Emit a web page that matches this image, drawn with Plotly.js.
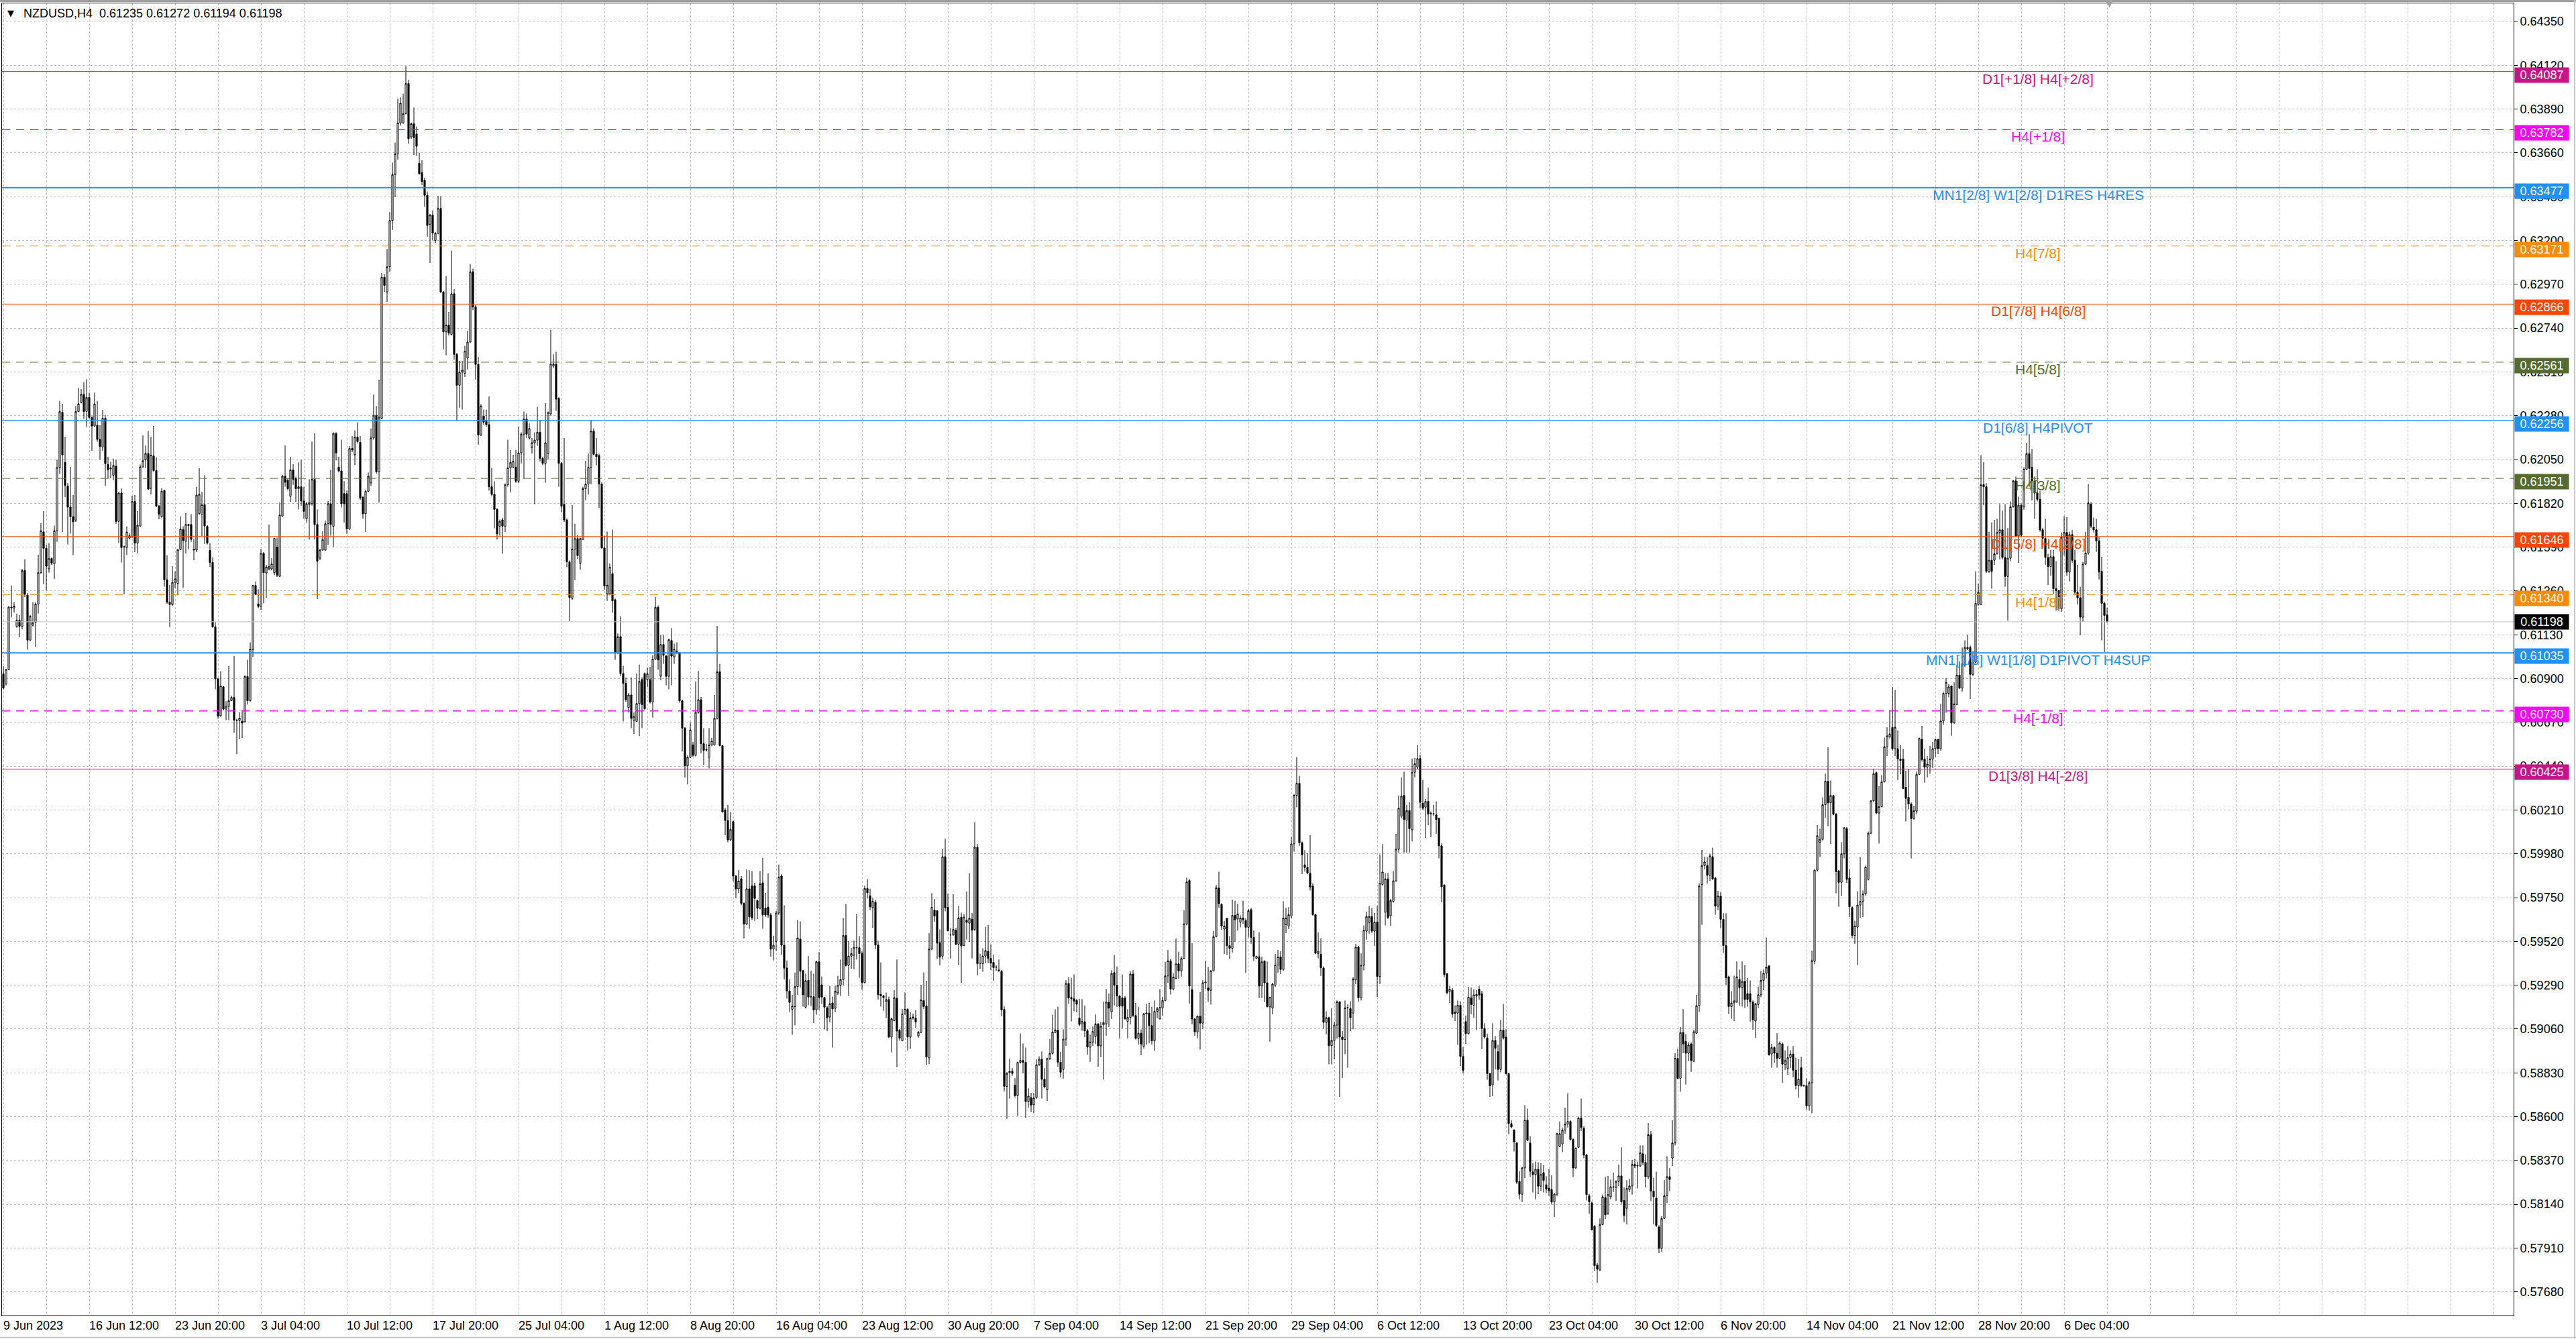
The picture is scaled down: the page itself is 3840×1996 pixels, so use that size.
<!DOCTYPE html>
<html>
<head>
<meta charset="utf-8">
<script src="https://cdn.plot.ly/plotly-3.0.1.min.js"></script>
<style>
  html, body { margin: 0; padding: 0; background: #fff; overflow: hidden; }
  #chart { width: 3840px; height: 1996px; }
</style>
</head>
<body>
<div id="chart"></div>
<script>
// NZDUSD H4 candles, prices in pips (price * 10000), one bar per 4 hours from 9 Jun 2023
const openPips = [
6092.5,6087.1,6094.8,6127.5,6127.1,6117.4,6120.7,6117.4,6146.7,6133.8,
6110.2,6118.0,6119.4,6129.1,6145.6,6167.0,6158.4,6147.6,6153.0,6150.3,
6167.6,6200.8,6229.8,6203.5,6191.1,6180.0,6175.0,6173.2,6230.2,6235.1,
6239.2,6230.2,6237.6,6227.1,6222.6,6223.0,6215.6,6211.6,6226.7,6202.4,
6200.5,6196.8,6201.5,6172.5,6187.4,6159.0,6158.8,6163.8,6164.5,6183.0,
6161.1,6170.1,6201.1,6204.9,6208.2,6189.8,6206.9,6199.2,6180.6,6175.0,
6188.7,6141.9,6130.1,6128.8,6140.5,6140.0,6157.7,6168.2,6162.1,6170.9,
6170.9,6158.0,6157.5,6176.6,6176.3,6181.3,6169.9,6157.3,6151.0,6117.1,
6089.8,6070.5,6085.7,6074.0,6075.4,6078.4,6080.1,6068.2,6068.0,6067.6,
6067.3,6091.1,6078.4,6105.2,6138.9,6129.2,6127.9,6155.7,6145.4,6147.6,
6147.6,6145.6,6159.1,6143.7,6175.3,6196.2,6194.2,6185.7,6199.6,6195.0,
6189.7,6190.7,6183.2,6173.9,6181.2,6181.8,6194.6,6170.9,6153.2,6157.5,
6157.5,6171.3,6181.8,6169.9,6218.7,6201.0,6199.0,6187.1,6187.1,6168.6,
6210.8,6207.5,6216.7,6214.0,6185.1,6176.5,6188.3,6192.7,6216.3,6228.2,
6198.6,6226.6,6300.7,6293.0,6306.2,6330.5,6354.6,6365.5,6381.7,6381.7,
6386.6,6402.4,6374.4,6381.3,6375.9,6360.5,6355.6,6351.6,6343.7,6328.5,
6333.3,6320.0,6323.8,6336.8,6293.0,6272.0,6275.6,6270.7,6292.0,6260.2,
6244.0,6250.9,6250.3,6258.2,6266.7,6303.6,6285.1,6254.9,6217.9,6227.8,
6225.2,6223.3,6190.7,6186.7,6178.8,6170.0,6173.3,6170.0,6191.7,6200.6,
6201.0,6201.0,6193.6,6208.5,6218.3,6226.2,6216.3,6211.2,6213.8,6215.2,
6219.3,6205.6,6203.0,6208.1,6229.0,6254.1,6255.1,6237.1,6203.0,6181.5,
6173.3,6151.3,6132.1,6158.0,6163.5,6150.5,6163.1,6189.7,6192.1,6200.9,
6219.9,6207.7,6207.1,6192.1,6158.6,6134.5,6134.5,6145.1,6131.4,6103.4,
6112.0,6092.6,6087.5,6074.8,6081.4,6068.1,6067.5,6076.9,6089.5,6092.6,
6089.5,6089.5,6077.7,6100.2,6127.4,6091.2,6107.9,6101.8,6091.2,6110.0,
6101.4,6104.3,6103.4,6078.3,6064.0,6044.2,6048.7,6055.2,6049.7,6072.2,
6078.9,6055.8,6052.7,6048.7,6055.2,6055.2,6069.1,6093.6,6054.8,6021.1,
6015.5,6005.3,6014.9,5986.3,5979.6,5984.9,5972.0,5961.2,5979.6,5981.2,
5981.2,5973.4,5969.4,5982.8,5969.4,5970.0,5965.9,5948.0,5952.0,5966.9,
5986.3,5950.0,5938.0,5926.0,5916.4,5917.8,5928.3,5953.3,5936.6,5917.5,
5931.6,5922.8,5923.0,5916.0,5941.3,5929.2,5922.5,5917.2,5912.3,5919.7,
5916.9,5925.0,5928.9,5932.0,5955.1,5939.4,5944.3,5944.7,5948.9,5948.7,
5945.8,5930.4,5979.8,5976.0,5969.8,5972.7,5950.1,5924.2,5923.4,5920.3,
5921.5,5901.8,5910.4,5922.1,5905.5,5899.9,5913.9,5916.4,5901.8,5912.3,
5911.7,5902.4,5904.3,5920.9,5918.1,5890.9,5948.0,5968.4,5968.1,5951.4,
5944.3,5996.5,5969.9,5955.4,5955.4,5957.9,5950.5,5964.7,5949.9,5963.1,
5961.6,5963.7,5958.3,6001.4,5940.6,5940.3,5944.3,5946.8,5943.1,5941.0,
5938.4,5937.0,5936.3,5916.4,5875.9,5883.1,5883.9,5876.5,5871.0,5888.5,
5889.5,5888.5,5867.9,5870.0,5866.3,5870.0,5887.3,5890.1,5879.6,5874.1,
5890.5,5893.2,5904.3,5905.4,5888.6,5884.8,5900.7,5929.9,5922.6,5921.9,
5921.0,5911.7,5908.7,5909.8,5905.1,5896.5,5899.2,5902.1,5908.7,5897.2,
5908.2,5908.7,5920.1,5915.0,5935.6,5929.0,5923.3,5922.3,5922.3,5910.0,
5912.1,5934.9,5913.1,5901.1,5903.8,5896.8,5914.0,5914.4,5907.8,5899.8,
5915.3,5911.3,5917.0,5921.0,5933.9,5941.8,5927.0,5932.5,5940.2,5936.5,
5943.1,5961.2,5984.0,5926.7,5911.3,5904.5,5912.7,5909.1,5930.3,5927.6,
5926.3,5936.5,5954.5,5980.0,5971.4,5958.5,5964.1,5949.8,5948.4,5965.7,
5963.8,5962.1,5964.3,5963.0,5959.4,5968.7,5954.1,5943.1,5943.9,5928.6,
5941.8,5930.3,5917.7,5917.0,5929.0,5939.6,5943.9,5937.3,5960.8,5960.1,
5965.4,6003.2,6028.7,6035.0,6003.8,5992.2,5990.8,5987.7,5981.0,5966.1,
5945.5,5945.3,5938.0,5909.5,5912.0,5897.3,5900.0,5908.1,5920.3,5901.8,
5900.5,5917.1,5916.7,5914.4,5931.8,5949.0,5922.4,5939.5,5957.4,5961.9,
5965.1,5957.4,5962.2,5933.6,5981.9,5967.3,5984.8,5965.5,5973.0,5983.8,
6000.4,6017.8,6028.6,6015.7,6020.7,6010.6,6040.8,6043.5,6048.0,6024.6,
6022.5,6025.5,6019.3,6019.1,6018.4,6016.6,6002.2,5981.6,5935.0,5925.7,
5926.4,5914.9,5914.4,5918.5,5891.6,5909.9,5903.6,5922.4,5918.5,5923.3,
5926.9,5924.6,5906.3,5901.3,5882.6,5876.7,5900.0,5894.1,5884.8,5905.4,
5901.8,5882.6,5856.4,5852.9,5846.2,5826.0,5819.3,5833.1,5858.2,5846.2,
5831.0,5829.6,5832.4,5823.5,5830.6,5824.2,5822.4,5821.7,5815.2,5819.3,
5844.4,5845.7,5852.9,5856.1,5857.5,5848.0,5833.1,5843.9,5859.3,5853.9,
5839.8,5818.5,5814.7,5802.5,5782.1,5779.5,5803.4,5817.5,5809.1,5817.9,
5823.2,5822.8,5826.0,5828.9,5816.0,5811.9,5821.7,5823.6,5834.9,5834.1,
5834.1,5840.5,5836.0,5828.5,5850.5,5820.9,5817.2,5802.1,5790.8,5806.6,
5818.5,5828.5,5838.3,5846.2,5890.6,5880.1,5904.2,5899.5,5893.3,5898.2,
5889.1,5903.8,5918.3,5981.8,5991.8,5991.8,5986.7,5996.5,5985.2,5970.5,
5975.8,5963.6,5949.8,5933.4,5917.8,5919.7,5920.2,5932.1,5927.8,5931.0,
5924.6,5924.6,5920.2,5910.2,5918.9,5924.0,5931.5,5935.3,5939.1,5892.9,
5896.3,5893.3,5890.6,5898.2,5887.3,5885.4,5891.0,5892.9,5884.4,5876.3,
5885.7,5876.3,5876.3,5865.6,5877.8,5941.5,5989.4,6004.1,6005.6,6023.8,
6036.1,6024.8,6028.6,6018.8,5989.0,5983.0,5998.0,6011.2,5985.2,5969.8,
5955.1,5959.5,5971.1,5973.0,5976.9,5984.6,6008.8,6025.8,6040.6,6019.4,
6022.7,6035.8,6054.2,6059.4,6064.4,6053.2,6053.2,6047.0,6047.8,6032.9,
6027.7,6024.2,6016.5,6020.4,6039.7,6058.0,6047.8,6043.5,6044.5,6047.8,
6053.2,6058.0,6053.2,6067.7,6082.2,6082.2,6086.0,6066.7,6076.4,6091.8,
6085.0,6097.2,6105.7,6106.3,6092.2,6098.6,6128.9,6128.9,6191.8,6190.7,
6146.3,6152.1,6152.1,6155.5,6166.7,6168.1,6153.6,6143.6,6153.2,6180.2,
6193.8,6164.8,6181.0,6180.2,6199.9,6208.1,6200.9,6193.8,6187.4,6184.1,
6168.1,6163.6,6153.6,6148.8,6154.0,6137.2,6136.2,6126.6,6164.2,6166.7,
6145.9,6165.6,6152.1,6135.3,6132.4,6122.3,6150.1,6155.9,6181.6,6169.4,
6168.1,6162.3,6146.3,6129.5,6123.5
];
const highPips = [
6096.5,6094.9,6128.1,6138.9,6130.1,6124.1,6123.4,6147.6,6152.6,6134.9,
6123.4,6130.1,6130.1,6155.0,6171.5,6177.9,6160.2,6161.1,6153.7,6170.3,
6204.9,6235.8,6234.2,6217.0,6192.7,6201.1,6186.3,6233.1,6242.5,6241.9,
6245.5,6247.1,6240.1,6227.7,6240.1,6235.8,6223.0,6231.1,6228.4,6206.5,
6203.8,6205.5,6204.9,6188.0,6189.8,6159.8,6169.9,6166.5,6186.0,6186.3,
6177.9,6202.4,6217.6,6212.3,6219.9,6217.0,6222.6,6206.2,6181.2,6190.0,
6189.2,6154.8,6139.2,6149.0,6146.3,6158.0,6175.2,6169.9,6176.9,6171.2,
6176.3,6163.1,6190.7,6200.5,6188.0,6196.8,6170.5,6161.1,6153.7,6119.8,
6090.4,6093.8,6086.1,6078.1,6096.5,6081.0,6101.9,6068.9,6072.3,6073.0,
6091.8,6099.9,6109.0,6139.2,6140.9,6136.9,6158.0,6156.4,6149.7,6170.9,
6153.2,6164.0,6164.0,6182.4,6197.0,6212.4,6195.0,6206.5,6202.5,6196.0,
6203.5,6204.9,6190.7,6182.8,6194.6,6214.4,6218.7,6178.8,6158.1,6167.4,
6172.9,6183.2,6199.6,6219.3,6219.3,6206.5,6215.4,6193.6,6188.7,6212.0,
6217.3,6220.3,6224.6,6217.3,6186.0,6189.1,6198.2,6221.3,6239.1,6233.1,
6246.9,6302.9,6302.3,6315.5,6334.9,6360.9,6371.4,6394.5,6395.1,6397.1,
6411.5,6404.4,6381.9,6389.8,6379.9,6366.1,6362.1,6353.0,6345.7,6334.0,
6335.8,6324.4,6343.3,6343.3,6293.4,6301.3,6282.5,6314.7,6294.4,6261.0,
6256.8,6256.8,6264.7,6272.6,6307.6,6305.2,6286.0,6258.8,6234.1,6231.2,
6231.2,6238.1,6200.6,6193.6,6179.5,6173.5,6174.5,6192.5,6215.4,6210.0,
6207.5,6210.0,6222.3,6219.3,6230.2,6229.2,6223.9,6216.3,6219.3,6232.6,
6225.5,6206.5,6234.7,6230.2,6273.1,6260.2,6261.6,6237.7,6203.6,6216.3,
6174.0,6152.0,6181.1,6171.3,6165.2,6164.0,6190.7,6204.4,6208.1,6225.5,
6221.4,6216.3,6208.1,6193.0,6164.8,6167.2,6150.5,6168.2,6132.0,6113.7,
6122.7,6096.7,6090.6,6082.4,6090.6,6072.2,6092.6,6097.3,6090.6,6093.2,
6095.7,6096.1,6102.2,6132.9,6128.4,6113.0,6113.0,6102.5,6111.0,6116.5,
6108.3,6109.0,6104.0,6079.0,6064.5,6049.7,6067.1,6056.8,6088.5,6094.0,
6080.3,6064.0,6055.8,6064.0,6058.9,6081.4,6117.7,6097.7,6055.0,6022.0,
6023.7,6020.0,6015.5,5987.0,5989.4,5986.3,5972.5,5989.8,5989.4,5989.0,
5982.8,5974.0,5989.0,5995.9,5977.5,5987.8,5967.0,5955.0,5968.0,5992.4,
5987.3,5971.0,5942.0,5932.0,5924.0,5935.7,5963.2,5962.5,5937.0,5935.1,
5944.3,5936.6,5935.1,5941.9,5946.4,5933.6,5923.0,5918.0,5928.7,5923.0,
5928.7,5933.9,5942.5,5964.4,5971.5,5952.1,5948.7,5952.4,5966.5,5954.8,
5946.8,5981.3,5984.6,5979.7,5974.8,5973.9,5952.4,5941.0,5924.0,5925.2,
5923.0,5912.0,5926.5,5942.5,5906.0,5916.6,5925.2,5916.9,5914.8,5914.1,
5916.0,5905.0,5929.2,5935.7,5931.4,5956.3,5977.3,5974.3,5968.5,5958.3,
6000.4,6006.0,5977.0,5959.1,5976.8,5959.1,5970.6,5967.1,5966.2,5978.2,
5987.8,5966.9,6014.6,6003.1,5945.6,5948.4,5959.7,5960.7,5950.5,5945.0,
5939.4,5942.5,5937.0,5918.1,5883.5,5890.5,5885.5,5880.2,5888.9,5903.7,
5898.4,5896.3,5874.9,5872.5,5872.5,5890.1,5891.7,5894.2,5885.5,5891.0,
5900.8,5913.5,5916.4,5917.7,5894.1,5905.8,5931.6,5933.3,5932.9,5934.7,
5921.7,5921.9,5921.7,5918.4,5906.0,5903.1,5907.4,5913.7,5909.1,5909.8,
5920.4,5927.0,5924.6,5936.9,5944.9,5938.9,5923.7,5934.7,5923.3,5916.4,
5936.3,5936.9,5919.7,5917.7,5905.8,5914.4,5919.3,5919.7,5917.7,5921.0,
5917.7,5927.0,5923.0,5941.3,5947.5,5942.6,5935.2,5953.5,5946.6,5944.2,
5968.3,5985.5,5985.0,5951.1,5912.0,5913.1,5925.4,5931.6,5941.8,5938.6,
5936.9,5957.5,5981.6,5988.6,5972.0,5962.8,5964.3,5954.8,5974.0,5973.4,
5971.8,5965.7,5973.4,5964.1,5969.1,5969.6,5957.7,5944.5,5956.8,5943.9,
5942.0,5941.5,5923.0,5930.3,5945.5,5947.5,5946.9,5973.1,5969.6,5970.0,
6006.7,6029.3,6048.9,6038.9,6004.5,5999.9,5998.3,6007.8,5982.4,5966.5,
5956.8,5953.7,5938.9,5915.3,5912.5,5917.0,5909.9,5921.0,5920.6,5904.9,
5921.0,5918.9,5920.6,5933.2,5950.8,5949.7,5945.7,5960.4,5967.6,5970.5,
5969.4,5966.9,5970.5,5997.7,6003.1,5987.9,5987.9,5974.4,5988.8,6008.5,
6028.6,6038.1,6041.1,6023.7,6025.0,6048.0,6048.3,6055.1,6050.1,6036.8,
6026.8,6032.7,6020.2,6023.7,6025.5,6017.0,6003.5,5982.0,5935.5,5928.7,
5927.5,5918.5,5921.0,5920.6,5896.4,5913.1,5928.2,5927.8,5926.9,5926.4,
5928.7,5926.0,5909.0,5903.6,5883.0,5909.0,5902.3,5897.7,5910.8,5919.2,
5905.9,5883.0,5858.2,5853.4,5846.5,5831.3,5833.7,5866.0,5864.2,5849.8,
5835.5,5836.4,5836.0,5835.5,5834.6,5828.8,5832.4,5829.2,5819.9,5851.6,
5857.5,5854.3,5864.7,5872.2,5858.2,5848.6,5843.9,5860.0,5869.5,5855.0,
5840.5,5819.5,5815.5,5803.0,5783.0,5806.6,5819.1,5828.5,5828.9,5827.0,
5830.7,5826.6,5834.9,5843.9,5822.8,5826.6,5827.3,5837.3,5837.9,5836.4,
5844.9,5844.9,5840.2,5856.7,5852.4,5827.9,5831.1,5803.0,5807.7,5826.6,
5839.2,5833.0,5858.1,5893.3,5895.7,5907.0,5916.5,5903.3,5899.1,5899.1,
5905.7,5924.0,5982.4,6000.0,5996.5,5996.2,5998.0,6001.2,5986.0,5978.6,
5978.0,5966.8,5966.8,5934.0,5925.9,5934.0,5941.5,5937.2,5941.5,5939.6,
5932.8,5931.5,5921.0,5919.7,5928.3,5936.6,5937.2,5954.1,5939.6,5898.2,
5897.0,5903.8,5899.5,5899.1,5894.8,5897.1,5894.8,5897.1,5891.0,5890.1,
5891.4,5876.9,5880.1,5878.8,5947.2,5989.9,6013.1,6011.2,6027.6,6040.2,
6054.0,6036.5,6029.0,6019.5,5989.5,6004.1,6012.0,6012.0,5989.8,5970.5,
5962.8,5978.3,5996.2,5978.8,5991.8,6009.7,6026.2,6042.6,6041.2,6033.5,
6039.3,6059.0,6064.4,6073.5,6085.6,6084.1,6062.8,6055.1,6053.2,6041.6,
6042.6,6025.0,6023.3,6041.2,6059.0,6065.2,6053.2,6049.3,6054.7,6056.7,
6058.6,6058.4,6076.7,6083.1,6090.3,6087.0,6086.4,6088.0,6097.2,6099.1,
6106.3,6110.1,6113.0,6107.3,6104.4,6146.3,6139.7,6207.3,6203.8,6192.6,
6167.1,6172.0,6173.3,6173.9,6181.6,6178.3,6181.6,6169.0,6183.0,6194.1,
6196.1,6185.5,6182.0,6200.9,6213.8,6218.3,6210.6,6196.1,6199.9,6188.4,
6169.0,6173.9,6155.5,6157.5,6157.5,6151.7,6136.6,6166.7,6175.2,6174.8,
6167.1,6168.1,6157.5,6149.7,6138.2,6151.3,6167.1,6192.2,6182.6,6174.5,
6173.9,6164.2,6154.0,6130.4,6127.2
];
const lowPips = [
6084.4,6086.4,6094.5,6122.1,6124.8,6116.7,6111.7,6116.0,6132.8,6105.2,
6109.6,6117.4,6106.6,6124.1,6145.0,6139.6,6136.2,6145.6,6149.7,6142.3,
6161.8,6197.4,6166.9,6185.3,6160.4,6166.1,6154.8,6172.3,6229.8,6234.5,
6226.4,6222.1,6226.4,6209.6,6222.3,6214.3,6204.9,6209.6,6191.1,6195.4,
6195.2,6194.1,6171.2,6161.1,6151.0,6134.2,6154.8,6163.1,6163.8,6156.4,
6155.7,6169.9,6200.8,6200.5,6189.0,6186.7,6198.4,6180.0,6173.6,6174.2,
6138.2,6129.2,6117.1,6128.1,6137.6,6134.2,6157.5,6137.6,6155.7,6158.0,
6161.8,6152.1,6156.4,6175.9,6164.7,6160.7,6160.4,6148.6,6116.7,6084.4,
6068.9,6070.0,6073.2,6068.2,6068.2,6078.1,6061.5,6050.3,6058.1,6058.8,
6066.9,6076.3,6077.7,6101.5,6133.8,6127.1,6126.1,6129.5,6132.4,6146.8,
6146.8,6144.3,6143.3,6143.3,6174.9,6190.7,6188.7,6182.8,6191.7,6182.8,
6178.8,6180.8,6173.9,6171.9,6163.0,6180.8,6163.0,6131.8,6152.2,6157.1,
6157.1,6160.1,6165.0,6159.1,6204.5,6198.2,6179.8,6171.9,6166.0,6168.0,
6208.8,6202.1,6213.4,6183.8,6173.9,6167.0,6188.0,6191.1,6215.4,6197.6,
6182.4,6226.2,6293.0,6287.8,6303.6,6325.4,6342.7,6362.5,6380.3,6381.3,
6386.2,6370.8,6373.4,6364.9,6364.5,6354.6,6349.1,6337.8,6322.0,6308.2,
6320.0,6318.7,6323.2,6292.4,6262.8,6259.8,6270.1,6270.1,6257.4,6225.2,
6232.2,6231.2,6248.3,6252.3,6266.1,6283.5,6247.0,6212.8,6217.3,6223.3,
6222.3,6188.7,6185.7,6168.9,6163.0,6165.0,6155.5,6167.0,6190.7,6187.7,
6200.6,6192.7,6192.7,6202.9,6195.0,6216.3,6215.5,6208.1,6181.5,6212.2,
6204.0,6202.0,6192.8,6205.0,6228.1,6253.1,6230.6,6190.7,6177.4,6172.3,
6148.4,6120.2,6131.4,6141.7,6152.9,6147.2,6162.7,6183.6,6186.6,6192.1,
6207.1,6202.0,6179.5,6158.0,6136.5,6130.8,6134.1,6124.7,6099.8,6102.8,
6091.2,6067.5,6077.7,6072.2,6064.0,6060.9,6067.1,6059.9,6064.0,6073.2,
6085.5,6076.9,6069.5,6099.8,6094.7,6089.1,6097.7,6086.5,6084.4,6086.5,
6097.7,6102.8,6077.3,6051.7,6038.0,6034.4,6048.3,6048.7,6049.1,6071.6,
6050.7,6044.6,6051.7,6042.9,6054.5,6054.8,6068.5,6054.4,6019.6,6007.8,
6004.1,6004.7,5983.7,5974.6,5977.5,5971.0,5953.6,5960.5,5958.7,5963.2,
5962.8,5963.8,5968.8,5958.7,5964.9,5964.4,5944.0,5942.0,5947.0,5966.0,
5945.0,5932.0,5922.0,5915.0,5903.0,5908.0,5924.0,5927.7,5917.8,5916.8,
5918.5,5918.1,5909.2,5913.5,5916.0,5919.1,5905.8,5904.9,5909.5,5896.3,
5914.8,5924.0,5923.4,5928.9,5938.8,5923.4,5937.6,5937.3,5942.5,5932.9,
5926.7,5929.9,5974.5,5968.4,5959.1,5948.0,5921.5,5917.8,5915.6,5911.7,
5901.2,5893.8,5910.0,5886.0,5899.9,5899.6,5913.5,5894.7,5895.6,5911.0,
5906.7,5901.5,5903.8,5916.6,5887.0,5887.6,5947.4,5962.2,5942.7,5939.4,
5942.5,5967.8,5957.3,5943.1,5955.0,5950.0,5939.8,5930.2,5949.5,5953.0,
5951.7,5943.1,5957.5,5934.1,5937.6,5936.1,5940.6,5940.6,5936.9,5931.4,
5936.6,5936.0,5912.7,5873.2,5858.9,5869.5,5881.5,5870.0,5860.5,5887.9,
5882.7,5859.3,5864.8,5862.4,5861.8,5869.2,5886.7,5869.5,5874.9,5868.3,
5889.8,5892.6,5903.8,5886.2,5880.6,5880.0,5897.2,5919.3,5910.0,5915.3,
5914.8,5907.4,5905.1,5901.8,5892.5,5888.8,5897.2,5898.1,5886.2,5891.2,
5879.5,5902.5,5907.1,5911.3,5918.4,5917.7,5901.1,5906.4,5911.1,5901.1,
5908.4,5912.4,5900.5,5897.8,5892.3,5895.8,5897.8,5898.5,5897.8,5894.5,
5911.7,5911.1,5913.1,5920.6,5930.3,5924.1,5926.3,5932.3,5932.5,5933.6,
5942.9,5960.4,5919.3,5908.4,5902.5,5901.1,5895.2,5906.0,5927.0,5920.4,
5918.8,5936.3,5954.1,5969.6,5958.1,5945.3,5944.9,5942.6,5946.2,5951.9,
5957.7,5959.4,5961.2,5935.6,5954.1,5950.8,5941.8,5943.0,5922.3,5922.3,
5920.1,5917.4,5899.4,5913.7,5928.0,5935.6,5934.9,5936.5,5956.4,5958.5,
5964.3,5999.2,6022.4,6002.2,5987.3,5988.6,5987.3,5978.7,5965.4,5945.3,
5943.1,5933.9,5906.3,5903.1,5887.5,5887.5,5890.2,5900.9,5870.4,5880.3,
5892.8,5885.7,5904.9,5905.9,5929.6,5920.3,5921.0,5936.8,5952.9,5956.1,
5956.5,5949.7,5922.8,5929.6,5981.2,5960.4,5963.7,5960.1,5972.3,5983.4,
5998.6,6016.6,5998.6,5998.6,5998.6,6004.5,6038.1,6042.6,6021.9,6021.0,
6006.3,6013.0,6006.7,6018.0,6008.5,5995.6,5972.6,5933.2,5924.2,5919.7,
5912.0,5910.2,5897.7,5886.6,5882.6,5898.2,5903.1,5913.8,5912.0,5905.4,
5921.5,5895.5,5900.9,5879.4,5870.4,5870.8,5884.8,5879.0,5883.3,5900.5,
5882.1,5850.7,5853.9,5841.7,5824.7,5816.6,5815.2,5827.8,5847.3,5828.3,
5820.2,5816.6,5819.3,5821.1,5820.2,5819.9,5818.4,5813.9,5807.3,5818.4,
5844.0,5841.4,5851.1,5854.3,5847.5,5828.3,5832.8,5843.5,5852.5,5838.2,
5816.0,5809.1,5800.2,5778.9,5772.7,5779.0,5803.0,5806.3,5808.5,5816.6,
5820.4,5815.7,5823.6,5814.2,5804.7,5803.4,5820.4,5819.1,5833.0,5822.3,
5833.6,5834.5,5822.8,5827.3,5815.7,5803.4,5802.1,5788.4,5788.9,5806.3,
5814.7,5820.9,5834.1,5844.9,5879.7,5873.1,5893.3,5876.9,5889.1,5883.5,
5888.8,5903.3,5915.1,5960.7,5989.9,5982.4,5983.7,5984.3,5966.0,5968.6,
5958.9,5946.0,5929.1,5914.0,5911.4,5910.2,5919.7,5918.3,5917.8,5917.0,
5917.8,5909.9,5905.7,5901.4,5917.0,5922.7,5926.4,5932.5,5892.0,5885.7,
5888.2,5885.7,5890.1,5877.8,5884.4,5882.0,5885.4,5880.7,5874.4,5869.9,
5875.6,5876.0,5863.7,5863.1,5861.8,5940.0,5988.6,5996.2,6005.0,6016.9,
6012.5,6003.1,6018.2,5977.3,5970.2,5975.8,5995.6,5982.7,5964.8,5953.7,
5950.8,5939.6,5964.4,5964.8,5976.0,5984.0,6008.4,6025.2,6018.8,6003.4,
6022.3,6035.4,6049.3,6058.6,6052.2,6049.3,6036.8,6039.7,6032.0,6015.0,
6021.3,5995.6,6015.9,6018.8,6039.3,6046.4,6035.4,6038.1,6040.1,6043.1,
6048.9,6050.3,6052.2,6065.7,6072.1,6080.2,6060.0,6066.3,6076.0,6084.5,
6083.1,6096.0,6105.0,6079.3,6091.4,6098.0,6128.1,6128.5,6181.0,6145.5,
6145.5,6137.2,6149.7,6155.1,6152.6,6152.6,6138.2,6120.4,6151.7,6179.7,
6164.2,6150.7,6164.0,6178.7,6199.5,6190.7,6183.5,6173.9,6183.0,6167.1,
6161.3,6149.7,6139.1,6144.0,6134.3,6125.6,6125.6,6125.0,6154.6,6144.0,
6141.0,6150.7,6134.3,6128.9,6112.7,6119.8,6149.7,6155.1,6169.0,6166.7,
6156.5,6142.0,6110.1,6103.8,6119.4
];
const closePips = [
6085.0,6094.8,6127.5,6127.1,6128.1,6120.7,6117.4,6146.7,6134.2,6110.2,
6122.7,6119.4,6129.1,6145.6,6167.6,6158.4,6149.0,6153.0,6150.6,6167.6,
6200.8,6230.2,6207.5,6191.4,6180.0,6175.0,6172.3,6230.2,6234.2,6239.2,
6230.2,6237.6,6227.1,6222.6,6234.2,6215.6,6211.9,6226.7,6202.8,6199.7,
6200.1,6201.9,6172.5,6187.4,6158.8,6159.3,6166.9,6165.0,6183.0,6161.1,
6170.5,6201.1,6204.4,6208.2,6189.5,6207.3,6199.2,6180.6,6176.3,6188.4,
6141.9,6130.1,6128.8,6140.5,6142.3,6157.7,6168.5,6162.5,6170.9,6170.3,
6163.1,6157.5,6186.3,6186.7,6181.3,6170.1,6161.1,6151.0,6117.1,6089.8,
6070.3,6086.1,6074.0,6075.4,6078.4,6080.1,6068.2,6068.0,6069.2,6066.6,
6091.1,6078.4,6105.5,6138.9,6134.2,6127.9,6155.7,6145.6,6148.6,6148.8,
6150.2,6163.6,6144.3,6175.9,6196.2,6193.0,6189.7,6199.6,6194.6,6189.7,
6190.7,6183.2,6177.8,6181.8,6182.4,6194.6,6170.9,6151.6,6157.5,6163.0,
6171.3,6181.8,6170.9,6218.7,6208.5,6199.0,6181.8,6181.8,6168.6,6210.8,
6210.0,6216.7,6214.4,6184.8,6176.5,6188.3,6196.2,6216.3,6228.2,6198.6,
6227.2,6300.7,6296.4,6306.2,6330.5,6354.6,6365.5,6381.7,6392.1,6386.6,
6402.4,6373.4,6381.3,6374.0,6369.4,6355.0,6351.0,6343.7,6327.9,6333.3,
6324.0,6323.8,6336.8,6293.0,6272.0,6275.6,6271.3,6292.0,6260.2,6244.0,
6250.9,6251.9,6261.8,6266.7,6303.6,6285.1,6254.9,6217.9,6233.1,6224.6,
6223.3,6190.7,6186.7,6178.8,6166.0,6172.5,6170.0,6191.7,6200.6,6203.5,
6204.1,6193.6,6208.5,6218.3,6226.2,6218.3,6221.3,6213.8,6215.2,6219.3,
6205.6,6203.0,6213.8,6229.6,6255.1,6255.1,6236.7,6203.0,6180.5,6173.3,
6151.3,6132.5,6158.0,6163.5,6154.5,6163.5,6189.7,6192.1,6200.9,6219.9,
6207.7,6206.5,6192.1,6158.6,6138.6,6139.0,6148.4,6130.8,6103.4,6112.0,
6092.6,6087.5,6078.9,6081.4,6069.1,6070.1,6076.9,6088.5,6076.3,6074.2,
6092.6,6077.7,6100.2,6127.4,6099.8,6107.9,6102.2,6091.2,6110.4,6101.8,
6105.5,6103.4,6078.3,6064.0,6044.2,6048.7,6063.0,6049.7,6072.2,6078.9,
6055.8,6052.3,6052.5,6055.2,6057.2,6069.1,6093.6,6054.8,6020.0,6015.5,
6005.3,6010.8,5986.3,5979.6,5983.7,5972.0,5961.2,5979.6,5964.9,5964.4,
5974.6,5969.4,5982.2,5965.9,5965.9,5965.9,5948.0,5950.0,5966.9,5985.7,
5950.0,5938.0,5926.0,5920.0,5918.1,5928.3,5953.8,5936.3,5924.0,5931.4,
5922.8,5923.0,5916.0,5941.3,5922.5,5922.8,5917.5,5911.9,5919.3,5916.6,
5925.8,5928.9,5932.0,5955.1,5939.4,5944.3,5945.6,5948.9,5948.7,5945.6,
5930.4,5979.8,5977.6,5970.2,5973.1,5950.1,5924.0,5923.4,5922.5,5921.5,
5901.8,5911.4,5922.5,5904.9,5901.2,5913.9,5916.4,5901.8,5911.9,5911.7,
5909.8,5904.3,5921.3,5917.8,5891.3,5948.0,5969.9,5965.3,5951.1,5943.7,
5996.5,5969.6,5957.5,5955.4,5958.3,5950.5,5964.4,5949.6,5964.7,5962.0,
5964.1,5957.9,6001.4,5940.3,5940.6,5944.3,5947.2,5943.1,5940.6,5938.2,
5938.6,5936.6,5916.0,5875.9,5882.7,5883.9,5882.7,5871.0,5888.5,5889.5,
5888.5,5867.9,5870.8,5866.1,5869.8,5887.3,5890.1,5879.6,5875.7,5890.5,
5893.2,5904.5,5905.5,5888.6,5883.3,5900.7,5929.9,5922.3,5921.9,5920.6,
5919.0,5908.4,5910.0,5905.1,5896.5,5899.2,5904.7,5908.7,5897.2,5907.4,
5909.4,5920.1,5917.0,5935.2,5929.0,5923.3,5918.0,5918.0,5911.3,5912.1,
5934.9,5913.1,5901.1,5903.8,5898.1,5914.0,5914.4,5907.8,5899.8,5915.3,
5916.6,5917.4,5921.0,5933.9,5941.8,5927.0,5933.3,5940.2,5936.5,5943.1,
5961.2,5983.3,5928.6,5911.3,5904.5,5912.7,5909.1,5930.3,5930.7,5926.3,
5936.5,5954.5,5980.2,5971.8,5960.1,5960.1,5949.8,5948.4,5965.7,5963.4,
5966.5,5964.3,5963.4,5959.4,5968.1,5954.1,5944.2,5944.2,5928.6,5941.3,
5930.3,5917.7,5922.7,5929.6,5939.6,5943.9,5937.3,5964.3,5964.3,5966.1,
6003.2,6028.7,6035.0,6003.8,5997.5,5990.8,5987.9,5980.6,5966.1,5945.8,
5946.8,5938.2,5909.5,5912.0,5897.3,5900.0,5908.1,5920.3,5901.8,5900.5,
5917.1,5917.3,5912.0,5932.3,5949.0,5922.4,5939.5,5957.9,5965.1,5965.1,
5957.4,5962.2,5933.6,5982.5,5988.4,5984.8,5964.6,5973.5,5983.8,6000.4,
6021.9,6028.2,6016.0,6020.7,6011.2,6040.8,6045.3,6048.0,6025.0,6021.9,
6025.5,6018.9,6019.1,6018.9,6016.0,6002.2,5980.7,5934.6,5925.1,5926.9,
5913.8,5914.2,5918.5,5891.6,5884.4,5903.6,5922.8,5918.9,5923.9,5924.2,
5923.9,5906.3,5901.8,5882.6,5876.2,5900.0,5895.9,5884.8,5905.4,5901.3,
5882.6,5856.4,5854.6,5846.8,5825.6,5819.3,5833.1,5858.2,5847.5,5831.3,
5829.6,5832.4,5823.5,5829.6,5826.5,5822.0,5821.1,5815.2,5819.3,5851.1,
5851.1,5852.9,5856.1,5857.5,5848.0,5833.1,5843.5,5859.3,5854.3,5839.8,
5819.1,5815.3,5800.6,5781.8,5779.9,5803.4,5817.9,5808.5,5819.1,5823.2,
5823.0,5826.0,5828.9,5815.3,5808.1,5822.3,5823.6,5834.9,5834.1,5834.3,
5841.1,5836.0,5828.5,5850.5,5820.9,5817.9,5802.9,5790.8,5806.6,5818.5,
5828.5,5827.0,5846.2,5890.6,5880.1,5904.2,5898.2,5893.3,5897.6,5889.5,
5904.6,5918.3,5981.1,5991.8,5993.7,5986.7,5996.9,5984.8,5970.5,5975.8,
5963.6,5949.8,5932.9,5917.8,5919.7,5920.8,5933.4,5927.8,5931.0,5921.5,
5921.5,5920.2,5910.8,5919.3,5924.0,5931.5,5935.3,5938.5,5892.5,5896.3,
5893.3,5890.6,5898.6,5887.6,5889.5,5891.0,5892.9,5884.4,5876.3,5879.7,
5876.3,5876.1,5865.6,5877.8,5941.9,5989.4,6007.5,6005.6,6023.8,6036.1,
6024.8,6028.6,6018.8,5988.6,5983.0,5998.0,6011.6,5984.6,5970.2,5955.1,
5960.1,5971.1,5973.0,5976.9,5991.0,6008.8,6025.8,6040.1,6019.4,6022.7,
6035.8,6054.2,6059.9,6060.9,6053.2,6064.4,6047.8,6047.8,6032.3,6027.1,
6024.2,6016.5,6020.7,6039.7,6058.6,6047.4,6043.5,6045.1,6047.8,6053.2,
6058.0,6053.2,6067.7,6082.2,6088.0,6085.6,6066.7,6076.7,6091.8,6085.0,
6097.6,6106.3,6106.3,6092.2,6098.6,6129.5,6135.3,6191.8,6190.7,6146.3,
6152.1,6146.3,6155.5,6166.7,6168.1,6153.6,6143.6,6153.2,6180.2,6193.8,
6164.8,6181.0,6165.2,6199.9,6208.1,6200.3,6193.8,6187.4,6184.1,6168.1,
6163.6,6153.6,6148.8,6154.0,6137.2,6136.2,6126.6,6164.2,6166.7,6145.9,
6165.6,6152.1,6135.3,6132.4,6122.3,6150.1,6155.9,6182.2,6170.0,6168.1,
6162.3,6145.9,6129.5,6123.1,6119.8
];

// price scale labels
const priceTicks = [
  0.64350, 0.64120, 0.63890, 0.63660, 0.63430, 0.63200, 0.62970, 0.62740, 0.62510, 0.62280,
  0.62050, 0.61820, 0.61590, 0.61360, 0.61130, 0.60900, 0.60670, 0.60440, 0.60210, 0.59980,
  0.59750, 0.59520, 0.59290, 0.59060, 0.58830, 0.58600, 0.58370, 0.58140, 0.57910, 0.57680
];

// time scale labels, one every 32 bars
const timeLabelBars = [0, 32, 64, 96, 128, 160, 192, 224, 256, 288, 320, 352, 384,
  416, 448, 480, 512, 544, 576, 608, 640, 672, 704, 736, 768];
const timeLabels = ['9 Jun 2023', '16 Jun 12:00', '23 Jun 20:00', '3 Jul 04:00', '10 Jul 12:00',
  '17 Jul 20:00', '25 Jul 04:00', '1 Aug 12:00', '8 Aug 20:00', '16 Aug 04:00', '23 Aug 12:00',
  '30 Aug 20:00', '7 Sep 04:00', '14 Sep 12:00', '21 Sep 20:00', '29 Sep 04:00', '6 Oct 12:00',
  '13 Oct 20:00', '23 Oct 04:00', '30 Oct 12:00', '6 Nov 20:00', '14 Nov 04:00', '21 Nov 12:00',
  '28 Nov 20:00', '6 Dec 04:00'];

// Murrey math levels
const levelPrices = [0.64087, 0.63782, 0.63477, 0.63171, 0.62866, 0.62561, 0.62256,
  0.61951, 0.61646, 0.61340, 0.61035, 0.60730, 0.60425];
const levelNames = ['D1[+1/8] H4[+2/8]', 'H4[+1/8]', 'MN1[2/8] W1[2/8] D1RES H4RES', 'H4[7/8]',
  'D1[7/8] H4[6/8]', 'H4[5/8]', 'D1[6/8] H4PIVOT', 'H4[3/8]', 'D1[5/8] H4[2/8]', 'H4[1/8]',
  'MN1[1/8] W1[1/8] D1PIVOT H4SUP', 'H4[-1/8]', 'D1[3/8] H4[-2/8]'];

// styles for the levels
const levelColors = ['#C71585', '#FF00FF', '#1E90FF', '#FF8C00', '#FF4500', '#556B2F', '#1E90FF',
  '#556B2F', '#FF4500', '#FF8C00', '#1E90FF', '#FF00FF', '#C71585'];
const levelDash = ['solid', '12px,9px', 'solid', '12px,9px', 'solid', '12px,9px', 'solid',
  '12px,9px', 'solid', '12px,9px', 'solid', '12px,9px', 'solid'];
const levelWidth = [1, 1.5, 2, 1, 1, 1, 1, 1, 1, 1, 2, 1.5, 1];

const n = closePips.length;
const bars = [];
for (let i = 0; i < n; i++) bars.push(i);
const toPrice = v => v / 10000;
const opens = openPips.map(toPrice);
const closes = closePips.map(toPrice);
const highs = highPips.map((h, i) => Math.max(h, openPips[i], closePips[i]) / 10000);
const lows = lowPips.map((l, i) => Math.min(l, openPips[i], closePips[i]) / 10000);

const lastO = opens[n - 1], lastH = highs[n - 1], lastL = lows[n - 1], lastC = closes[n - 1];

const candles = {
  type: 'candlestick',
  x: bars,
  open: opens,
  high: highs,
  low: lows,
  close: closes,
  increasing: {line: {color: '#000000', width: 1}, fillcolor: '#FFFFFF'},
  decreasing: {line: {color: '#000000', width: 1}, fillcolor: '#000000'},
  whiskerwidth: 0,
  hoverinfo: 'skip',
  showlegend: false
};

const shapes = [];
const annotations = [];

levelPrices.forEach((p, i) => {
  shapes.push({
    type: 'line', xref: 'paper', yref: 'y', x0: 0, x1: 1, y0: p, y1: p,
    line: {color: levelColors[i], width: levelWidth[i], dash: levelDash[i]}, layer: 'above'
  });
  annotations.push({
    xref: 'x', yref: 'y', x: 758.3, y: p, xanchor: 'center', yanchor: 'top', yshift: 3,
    text: levelNames[i], showarrow: false,
    font: {family: 'Liberation Sans, Arial, sans-serif', size: 21, color: levelColors[i]}
  });
  annotations.push({
    xref: 'paper', yref: 'y', x: 1, y: p, xanchor: 'left', yanchor: 'middle', xshift: 1, yshift: -5,
    text: p.toFixed(5), showarrow: false, bgcolor: levelColors[i], borderpad: 1,
    width: 78, height: 20, align: 'center',
    font: {family: 'Liberation Sans, Arial, sans-serif', size: 18, color: '#FFFFFF'}
  });
});

// bid line and its price label
shapes.push({
  type: 'line', xref: 'paper', yref: 'y', x0: 0, x1: 1, y0: lastC, y1: lastC,
  line: {color: '#C0C0C0', width: 1}, layer: 'above'
});
annotations.push({
  xref: 'paper', yref: 'y', x: 1, y: lastC, xanchor: 'left', yanchor: 'middle', xshift: 1,
  text: lastC.toFixed(5), showarrow: false, bgcolor: '#000000', borderpad: 1,
  width: 78, height: 20, align: 'center',
  font: {family: 'Liberation Sans, Arial, sans-serif', size: 18, color: '#FFFFFF'}
});

// time labels, left aligned at their bar
timeLabelBars.forEach((b, i) => {
  annotations.push({
    xref: 'x', yref: 'paper', x: b, y: 0, xanchor: 'left', yanchor: 'top', yshift: -3, xshift: -2,
    text: timeLabels[i], showarrow: false,
    font: {family: 'Liberation Sans, Arial, sans-serif', size: 18, color: '#000000'}
  });
});

// chart header
annotations.push({
  xref: 'paper', yref: 'paper', x: 0.0016, y: 0.9975, xanchor: 'left', yanchor: 'top',
  text: '\u25BC', showarrow: false,
  font: {family: 'DejaVu Sans, sans-serif', size: 13, color: '#000000'}
});
annotations.push({
  xref: 'paper', yref: 'paper', x: 0.0080, y: 0.9985, xanchor: 'left', yanchor: 'top',
  text: 'NZDUSD,H4\u00A0\u00A0' + lastO.toFixed(5) + ' ' + lastH.toFixed(5) + ' ' +
        lastL.toFixed(5) + ' ' + lastC.toFixed(5),
  showarrow: false,
  font: {family: 'Liberation Sans, Arial, sans-serif', size: 18, color: '#000000'}
});
// chart shift marker
annotations.push({
  xref: 'x', yref: 'paper', x: 785, y: 1.0, xanchor: 'center', yanchor: 'middle', yshift: -1,
  text: '\u25BC', showarrow: false,
  font: {family: 'DejaVu Sans, sans-serif', size: 12, color: '#A0A0A0'}
});

// window frame
shapes.push({type: 'line', xref: 'paper', yref: 'paper', x0: -0.001, x1: 1.03, y0: 1.0018, y1: 1.0018,
  line: {color: '#A0A0A0', width: 3}, layer: 'above'});
shapes.push({type: 'line', xref: 'paper', yref: 'paper', x0: 1.0243, x1: 1.0243, y0: -0.02, y1: 1.003,
  line: {color: '#C8C8C8', width: 2}, layer: 'above'});
shapes.push({type: 'line', xref: 'paper', yref: 'paper', x0: -0.001, x1: 1.03, y0: -0.0168, y1: -0.0168,
  line: {color: '#C8C8C8', width: 2}, layer: 'above'});

const gridBars = [];
for (let b = 0; b <= 928; b += 16) gridBars.push(b);

const layout = {
  width: 3840,
  height: 1996,
  margin: {l: 3, r: 93, t: 5, b: 35},
  paper_bgcolor: '#FFFFFF',
  plot_bgcolor: '#FFFFFF',
  showlegend: false,
  hovermode: false,
  boxgap: 0.25,
  font: {family: 'Liberation Sans, Arial, sans-serif', size: 18, color: '#000000'},
  xaxis: {
    type: 'linear',
    range: [-0.5, 935.5],
    tickvals: gridBars,
    showticklabels: false,
    ticks: '',
    showgrid: true,
    gridcolor: '#C0C0C0',
    griddash: '3px,3px',
    gridwidth: 1,
    zeroline: false,
    showline: true,
    mirror: true,
    linecolor: '#000000',
    linewidth: 1,
    rangeslider: {visible: false},
    fixedrange: true
  },
  yaxis: {
    side: 'right',
    range: [0.57556, 0.64445],
    tickvals: priceTicks,
    ticktext: priceTicks.map(v => v.toFixed(5)),
    ticks: 'outside',
    ticklen: 5,
    tickcolor: '#000000',
    tickfont: {family: 'Liberation Sans, Arial, sans-serif', size: 18, color: '#000000'},
    showgrid: true,
    gridcolor: '#C0C0C0',
    griddash: '3px,3px',
    gridwidth: 1,
    zeroline: false,
    showline: true,
    mirror: true,
    linecolor: '#000000',
    linewidth: 1,
    fixedrange: true
  },
  shapes: shapes,
  annotations: annotations
};

Plotly.newPlot('chart', [candles], layout, {displayModeBar: false, staticPlot: true});
</script>
</body>
</html>
